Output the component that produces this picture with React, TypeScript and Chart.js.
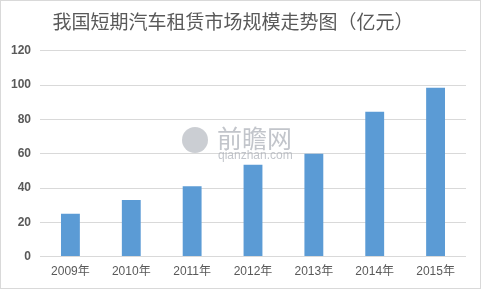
import React, { useEffect, useRef } from "react";
import { Chart, registerables } from "chart.js";

Chart.register(...registerables);

const TITLE = "我国短期汽车租赁市场规模走势图（亿元）";
const categories = ["2009年", "2010年", "2011年", "2012年", "2013年", "2014年", "2015年"];
const marketSize = [25, 33, 41, 53.5, 60, 84.5, 98.5];
const yTicks = [0, 20, 40, 60, 80, 100, 120];

export default function App() {
  const ref = useRef<HTMLCanvasElement>(null);

  useEffect(() => {
    document.body.style.margin = "0";
    const ctx = ref.current!;
    const chart = new Chart(ctx, {
      type: "bar",
      data: {
        labels: categories,
        datasets: [
          {
            label: "市场规模",
            data: marketSize,
            backgroundColor: "#5B9BD5",
            borderWidth: 0,
            categoryPercentage: 1,
            barPercentage: 0.31,
          },
        ],
      },
      options: {
        animation: false,
        responsive: false,
        maintainAspectRatio: false,
        layout: { padding: { left: 0, right: 15, top: 0, bottom: 2 } },
        plugins: {
          legend: { display: false },
          tooltip: { enabled: false },
          title: {
            display: true,
            text: TITLE,
            color: "#595959",
            font: { family: "'Noto Sans CJK SC', sans-serif", size: 19, weight: "normal" },
            padding: { top: 10, bottom: 18 },
          },
        },
        scales: {
          x: {
            grid: { display: false, drawTicks: false },
            border: { display: false },
            ticks: {
              color: "#595959",
              padding: 8,
              font: { family: "Arial, 'Liberation Sans', 'Noto Sans CJK SC', sans-serif", size: 12 },
            },
          },
          y: {
            min: 0,
            max: 120,
            afterBuildTicks: (axis: any) => {
              axis.ticks = yTicks.map((v) => ({ value: v }));
            },
            afterFit: (axis: any) => {
              axis.width = 40;
            },
            grid: { color: "#d9d9d9", lineWidth: 1, drawTicks: false },
            border: { display: false },
            ticks: {
              color: "#595959",
              padding: 9,
              font: { family: "Arial, 'Liberation Sans', sans-serif", size: 12, weight: "bold" },
            },
          },
        },
      },
    });
    return () => chart.destroy();
  }, []);

  return (
    <div style={{ position: "fixed", left: 0, top: 0, width: 481, height: 289, background: "#fff" }}>
      <canvas ref={ref} width={481} height={289} style={{ position: "absolute", left: 0, top: 0 }} />
      <div
        style={{
          position: "absolute",
          left: 0,
          top: 0,
          width: 479,
          height: 287,
          border: "1px solid #d9d9d9",
          pointerEvents: "none",
        }}
      />
      <div style={{ position: "absolute", left: 182, top: 127, width: 26, height: 26, borderRadius: "50%", background: "#a9adb5", opacity: 0.6 }} />
      <div
        style={{
          position: "absolute",
          left: 217,
          top: 122,
          fontFamily: "'Noto Sans CJK SC', sans-serif",
          fontSize: 25,
          lineHeight: "30px",
          color: "#a9adb5",
          opacity: 0.7,
          whiteSpace: "nowrap",
        }}
      >
        前瞻网
      </div>
      <div
        style={{
          position: "absolute",
          left: 218,
          top: 148,
          fontFamily: "Arial, 'Liberation Sans', sans-serif",
          fontSize: 12,
          lineHeight: "14px",
          color: "#a9adb5",
          opacity: 0.7,
          whiteSpace: "nowrap",
        }}
      >
        qianzhan.com
      </div>
    </div>
  );
}
